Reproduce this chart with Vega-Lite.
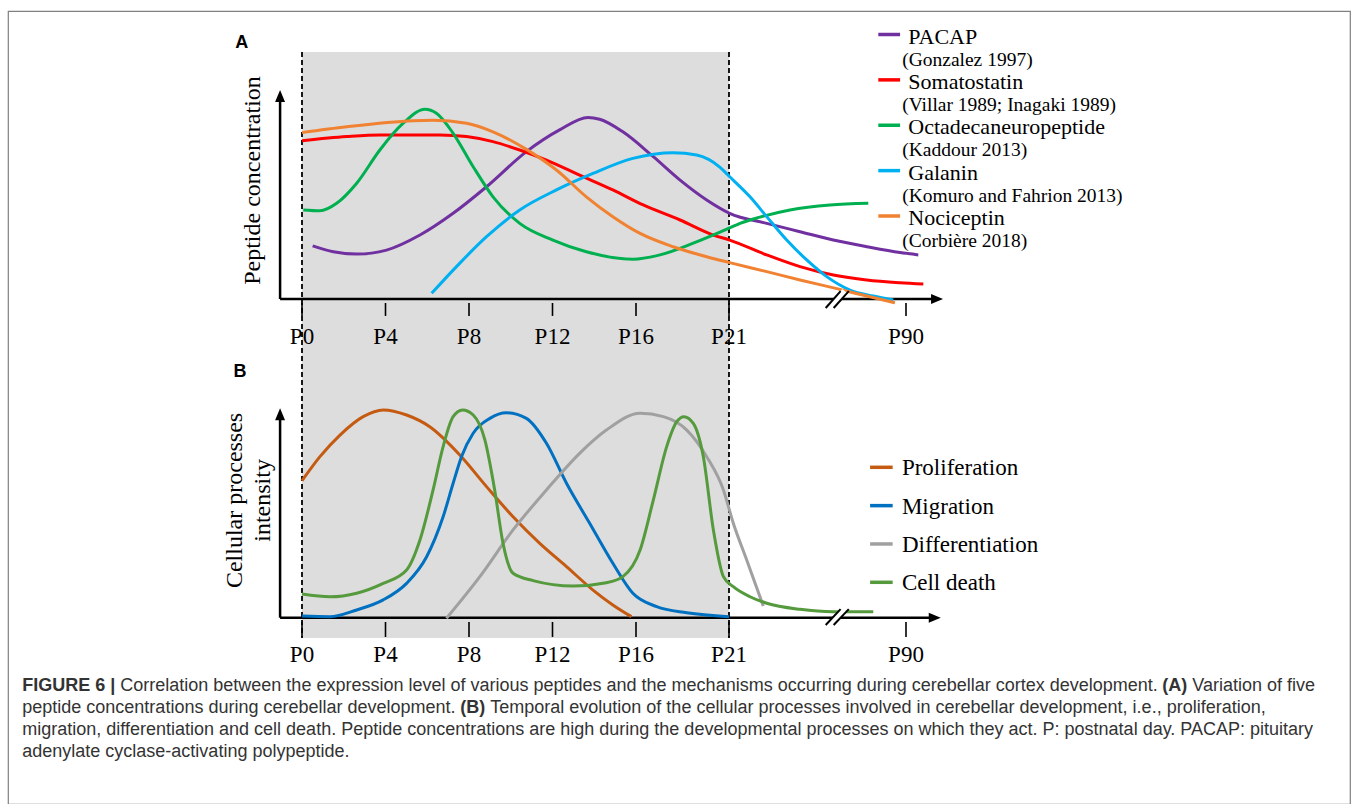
{
  "$schema": "https://vega.github.io/schema/vega-lite/v6.json",
  "width": 1342,
  "height": 793,
  "autosize": "none",
  "padding": {"left": 8, "top": 11, "right": 8, "bottom": 0},
  "background": "white",
  "config": {
    "view": {"stroke": "#808080", "strokeWidth": 1.2},
    "axis": {"disable": true},
    "legend": {"disable": true},
    "text": {"font": "Liberation Serif", "color": "black"}
  },
  "datasets": {
    "peptides": [
      {"peptide": "PACAP", "day": 0.51, "value": 25.4}, {"peptide": "PACAP", "day": 1.5, "value": 22.6}, {"peptide": "PACAP", "day": 2.62, "value": 21.5}, {"peptide": "PACAP", "day": 4.05, "value": 23.4}, {"peptide": "PACAP", "day": 5.65, "value": 30.6}, {"peptide": "PACAP", "day": 7.24, "value": 41.0}, {"peptide": "PACAP", "day": 8.84, "value": 53.7}, {"peptide": "PACAP", "day": 10.75, "value": 70.5}, {"peptide": "PACAP", "day": 12.34, "value": 80.9}, {"peptide": "PACAP", "day": 13.7, "value": 86.9}, {"peptide": "PACAP", "day": 14.26, "value": 86.0}, {"peptide": "PACAP", "day": 15.37, "value": 80.0}, {"peptide": "PACAP", "day": 16.93, "value": 68.1}, {"peptide": "PACAP", "day": 18.37, "value": 56.9}, {"peptide": "PACAP", "day": 19.8, "value": 47.4}, {"peptide": "PACAP", "day": 21.27, "value": 41.0}, {"peptide": "PACAP", "day": 35.7, "value": 36.2}, {"peptide": "PACAP", "day": 48.68, "value": 32.2}, {"peptide": "PACAP", "day": 61.66, "value": 28.2}, {"peptide": "PACAP", "day": 74.68, "value": 25.0}, {"peptide": "PACAP", "day": 87.66, "value": 22.2}, {"peptide": "PACAP", "day": 94.8, "value": 21.1},
      {"peptide": "Somatostatin", "day": 0, "value": 75.7}, {"peptide": "Somatostatin", "day": 2.14, "value": 77.7}, {"peptide": "Somatostatin", "day": 3.73, "value": 78.5}, {"peptide": "Somatostatin", "day": 6.6, "value": 78.5}, {"peptide": "Somatostatin", "day": 7.88, "value": 77.7}, {"peptide": "Somatostatin", "day": 9.15, "value": 75.3}, {"peptide": "Somatostatin", "day": 10.43, "value": 71.3}, {"peptide": "Somatostatin", "day": 11.71, "value": 66.5}, {"peptide": "Somatostatin", "day": 13.3, "value": 59.3}, {"peptide": "Somatostatin", "day": 14.89, "value": 52.2}, {"peptide": "Somatostatin", "day": 16.39, "value": 45.0}, {"peptide": "Somatostatin", "day": 18.37, "value": 37.8}, {"peptide": "Somatostatin", "day": 20.16, "value": 30.6}, {"peptide": "Somatostatin", "day": 21.27, "value": 28.2}, {"peptide": "Somatostatin", "day": 35.7, "value": 21.1}, {"peptide": "Somatostatin", "day": 48.68, "value": 15.5}, {"peptide": "Somatostatin", "day": 61.66, "value": 11.5}, {"peptide": "Somatostatin", "day": 74.68, "value": 9.1}, {"peptide": "Somatostatin", "day": 87.66, "value": 7.8}, {"peptide": "Somatostatin", "day": 96.75, "value": 7.2},
      {"peptide": "Octadecaneuropeptide", "day": 0.06, "value": 42.6}, {"peptide": "Octadecaneuropeptide", "day": 0.86, "value": 42.2}, {"peptide": "Octadecaneuropeptide", "day": 1.66, "value": 45.8}, {"peptide": "Octadecaneuropeptide", "day": 2.62, "value": 55.4}, {"peptide": "Octadecaneuropeptide", "day": 3.73, "value": 71.3}, {"peptide": "Octadecaneuropeptide", "day": 4.85, "value": 84.1}, {"peptide": "Octadecaneuropeptide", "day": 5.89, "value": 90.8}, {"peptide": "Octadecaneuropeptide", "day": 6.44, "value": 88.9}, {"peptide": "Octadecaneuropeptide", "day": 7.24, "value": 79.3}, {"peptide": "Octadecaneuropeptide", "day": 8.2, "value": 63.3}, {"peptide": "Octadecaneuropeptide", "day": 9.15, "value": 48.9}, {"peptide": "Octadecaneuropeptide", "day": 10.43, "value": 36.2}, {"peptide": "Octadecaneuropeptide", "day": 12.02, "value": 28.2}, {"peptide": "Octadecaneuropeptide", "day": 13.62, "value": 22.6}, {"peptide": "Octadecaneuropeptide", "day": 15.85, "value": 19.0}, {"peptide": "Octadecaneuropeptide", "day": 17.29, "value": 21.1}, {"peptide": "Octadecaneuropeptide", "day": 19.08, "value": 26.7}, {"peptide": "Octadecaneuropeptide", "day": 21.27, "value": 34.0}, {"peptide": "Octadecaneuropeptide", "day": 25.29, "value": 36.2}, {"peptide": "Octadecaneuropeptide", "day": 33.09, "value": 39.2}, {"peptide": "Octadecaneuropeptide", "day": 44.78, "value": 42.6}, {"peptide": "Octadecaneuropeptide", "day": 60.38, "value": 45.0}, {"peptide": "Octadecaneuropeptide", "day": 75.3, "value": 45.8},
      {"peptide": "Galanin", "day": 6.21, "value": 2.7}, {"peptide": "Galanin", "day": 7.4, "value": 15.5}, {"peptide": "Galanin", "day": 8.84, "value": 29.8}, {"peptide": "Galanin", "day": 10.43, "value": 42.6}, {"peptide": "Galanin", "day": 12.19, "value": 52.2}, {"peptide": "Galanin", "day": 13.94, "value": 60.1}, {"peptide": "Galanin", "day": 15.85, "value": 67.3}, {"peptide": "Galanin", "day": 18.0, "value": 70.0}, {"peptide": "Galanin", "day": 19.26, "value": 68.9}, {"peptide": "Galanin", "day": 20.52, "value": 63.0}, {"peptide": "Galanin", "day": 21.27, "value": 58.5}, {"peptide": "Galanin", "day": 29.19, "value": 48.9}, {"peptide": "Galanin", "day": 35.7, "value": 39.4}, {"peptide": "Galanin", "day": 43.5, "value": 28.2}, {"peptide": "Galanin", "day": 51.29, "value": 18.7}, {"peptide": "Galanin", "day": 59.09, "value": 10.7}, {"peptide": "Galanin", "day": 68.17, "value": 4.3}, {"peptide": "Galanin", "day": 77.25, "value": 1.4}, {"peptide": "Galanin", "day": 85.05, "value": -0.5},
      {"peptide": "Nociceptin", "day": 0, "value": 79.6}, {"peptide": "Nociceptin", "day": 2.14, "value": 82.4}, {"peptide": "Nociceptin", "day": 5.33, "value": 85.3}, {"peptide": "Nociceptin", "day": 6.28, "value": 85.5}, {"peptide": "Nociceptin", "day": 7.88, "value": 84.1}, {"peptide": "Nociceptin", "day": 9.15, "value": 80.0}, {"peptide": "Nociceptin", "day": 10.75, "value": 71.6}, {"peptide": "Nociceptin", "day": 12.19, "value": 61.7}, {"peptide": "Nociceptin", "day": 13.62, "value": 48.9}, {"peptide": "Nociceptin", "day": 14.89, "value": 39.4}, {"peptide": "Nociceptin", "day": 16.22, "value": 31.4}, {"peptide": "Nociceptin", "day": 18.0, "value": 25.0}, {"peptide": "Nociceptin", "day": 19.8, "value": 20.2}, {"peptide": "Nociceptin", "day": 21.27, "value": 17.4}, {"peptide": "Nociceptin", "day": 35.7, "value": 13.1}, {"peptide": "Nociceptin", "day": 48.68, "value": 9.1}, {"peptide": "Nociceptin", "day": 64.27, "value": 4.6}, {"peptide": "Nociceptin", "day": 74.68, "value": 1.4}, {"peptide": "Nociceptin", "day": 85.7, "value": -1.8}
    ],
    "processes": [
      {"process": "Proliferation", "day": 0, "value": 65.4}, {"process": "Proliferation", "day": 0.86, "value": 76.9}, {"process": "Proliferation", "day": 1.82, "value": 87.2}, {"process": "Proliferation", "day": 2.93, "value": 96.0}, {"process": "Proliferation", "day": 3.89, "value": 99.2}, {"process": "Proliferation", "day": 5.01, "value": 96.8}, {"process": "Proliferation", "day": 6.12, "value": 91.2}, {"process": "Proliferation", "day": 7.56, "value": 77.7}, {"process": "Proliferation", "day": 8.84, "value": 62.6}, {"process": "Proliferation", "day": 10.11, "value": 48.2}, {"process": "Proliferation", "day": 11.39, "value": 35.5}, {"process": "Proliferation", "day": 12.67, "value": 24.4}, {"process": "Proliferation", "day": 13.94, "value": 13.2}, {"process": "Proliferation", "day": 14.89, "value": 6.1}, {"process": "Proliferation", "day": 15.78, "value": 0.5},
      {"process": "Migration", "day": 0, "value": 0.8}, {"process": "Migration", "day": 1.34, "value": 0.5}, {"process": "Migration", "day": 2.62, "value": 3.7}, {"process": "Migration", "day": 3.89, "value": 8.5}, {"process": "Migration", "day": 5.01, "value": 16.4}, {"process": "Migration", "day": 5.97, "value": 29.1}, {"process": "Migration", "day": 6.76, "value": 48.2}, {"process": "Migration", "day": 7.24, "value": 64.2}, {"process": "Migration", "day": 7.64, "value": 76.9}, {"process": "Migration", "day": 8.2, "value": 88.1}, {"process": "Migration", "day": 9.0, "value": 95.2}, {"process": "Migration", "day": 9.79, "value": 97.9}, {"process": "Migration", "day": 10.75, "value": 95.2}, {"process": "Migration", "day": 11.71, "value": 83.3}, {"process": "Migration", "day": 12.67, "value": 64.2}, {"process": "Migration", "day": 13.78, "value": 45.1}, {"process": "Migration", "day": 14.89, "value": 26.0}, {"process": "Migration", "day": 15.85, "value": 11.7}, {"process": "Migration", "day": 17.11, "value": 5.3}, {"process": "Migration", "day": 18.73, "value": 2.4}, {"process": "Migration", "day": 21.0, "value": 0.5},
      {"process": "Differentiation", "day": 6.92, "value": -0.3}, {"process": "Differentiation", "day": 8.52, "value": 19.6}, {"process": "Differentiation", "day": 10.11, "value": 41.9}, {"process": "Differentiation", "day": 11.71, "value": 61.0}, {"process": "Differentiation", "day": 13.3, "value": 78.5}, {"process": "Differentiation", "day": 14.58, "value": 89.6}, {"process": "Differentiation", "day": 16.22, "value": 97.6}, {"process": "Differentiation", "day": 17.47, "value": 96.0}, {"process": "Differentiation", "day": 18.73, "value": 89.6}, {"process": "Differentiation", "day": 19.8, "value": 76.9}, {"process": "Differentiation", "day": 20.7, "value": 61.0}, {"process": "Differentiation", "day": 22.68, "value": 45.1}, {"process": "Differentiation", "day": 27.9, "value": 27.6}, {"process": "Differentiation", "day": 34.37, "value": 5.6},
      {"process": "Cell death", "day": 0, "value": 11.3}, {"process": "Cell death", "day": 1.34, "value": 10.0}, {"process": "Cell death", "day": 2.62, "value": 11.7}, {"process": "Cell death", "day": 3.89, "value": 16.4}, {"process": "Cell death", "day": 5.01, "value": 22.8}, {"process": "Cell death", "day": 5.65, "value": 37.1}, {"process": "Cell death", "day": 6.28, "value": 61.0}, {"process": "Cell death", "day": 6.76, "value": 81.7}, {"process": "Cell death", "day": 7.24, "value": 96.0}, {"process": "Cell death", "day": 7.69, "value": 99.2}, {"process": "Cell death", "day": 8.2, "value": 96.8}, {"process": "Cell death", "day": 8.76, "value": 84.9}, {"process": "Cell death", "day": 9.23, "value": 61.0}, {"process": "Cell death", "day": 9.63, "value": 35.5}, {"process": "Cell death", "day": 10.11, "value": 21.2}, {"process": "Cell death", "day": 11.07, "value": 17.7}, {"process": "Cell death", "day": 12.98, "value": 15.1}, {"process": "Cell death", "day": 14.58, "value": 16.7}, {"process": "Cell death", "day": 15.37, "value": 19.6}, {"process": "Cell death", "day": 16.22, "value": 32.3}, {"process": "Cell death", "day": 16.93, "value": 56.2}, {"process": "Cell death", "day": 17.65, "value": 81.7}, {"process": "Cell death", "day": 18.19, "value": 93.6}, {"process": "Cell death", "day": 18.58, "value": 96.0}, {"process": "Cell death", "day": 19.08, "value": 92.8}, {"process": "Cell death", "day": 19.62, "value": 76.9}, {"process": "Cell death", "day": 20.16, "value": 41.9}, {"process": "Cell death", "day": 20.7, "value": 19.6}, {"process": "Cell death", "day": 22.68, "value": 14.8}, {"process": "Cell death", "day": 29.19, "value": 10.0}, {"process": "Cell death", "day": 35.7, "value": 6.9}, {"process": "Cell death", "day": 48.68, "value": 4.0}, {"process": "Cell death", "day": 61.66, "value": 2.9}, {"process": "Cell death", "day": 77.25, "value": 2.9}
    ],
    "ticks": [
      {"day": 0, "label": "P0"}, {"day": 4, "label": "P4"}, {"day": 8, "label": "P8"}, {"day": 12, "label": "P12"}, {"day": 16, "label": "P16"}, {"day": 21, "label": "P21"}, {"day": 90, "label": "P90"}
    ],
    "window": [{"edge": "P0", "day": 0}, {"edge": "P21", "day": 21}],
    "legendA": [
      {"peptide": "PACAP", "cite": "(Gonzalez 1997)"},
      {"peptide": "Somatostatin", "cite": "(Villar 1989; Inagaki 1989)"},
      {"peptide": "Octadecaneuropeptide", "cite": "(Kaddour 2013)"},
      {"peptide": "Galanin", "cite": "(Komuro and Fahrion 2013)"},
      {"peptide": "Nociceptin", "cite": "(Corbière 2018)"}
    ],
    "legendB": [
      {"process": "Proliferation"}, {"process": "Migration"}, {"process": "Differentiation"}, {"process": "Cell death"}
    ],
    "caption": [
      {"line": 1, "part": "fig", "text": "FIGURE 6 |"},
      {"line": 1, "part": "l1b", "text": "Correlation between the expression level of various peptides and the mechanisms occurring during cerebellar cortex development."},
      {"line": 1, "part": "l1c", "text": "(A)"},
      {"line": 1, "part": "l1d", "text": "Variation of five"},
      {"line": 2, "part": "start", "text": "peptide concentrations during cerebellar development."},
      {"line": 2, "part": "l2b", "text": "(B)"},
      {"line": 2, "part": "l2c", "text": "Temporal evolution of the cellular processes involved in cerebellar development, i.e., proliferation,"},
      {"line": 3, "part": "start", "text": "migration, differentiation and cell death. Peptide concentrations are high during the developmental processes on which they act. P: postnatal day. PACAP: pituitary"},
      {"line": 4, "part": "start", "text": "adenylate cyclase-activating polypeptide."}
    ]
  },
  "resolve": {"scale": {"y": "independent", "color": "independent"}},
  "layer": [
    {
      "layer": [
        {
          "data": {"values": [{}]},
          "mark": {"type": "rect", "color": "#dddddd"},
          "encoding": {
            "x": {"datum": 0, "type": "quantitative", "scale": {"domain": [0, 16, 21, 90], "range": [294, 628, 721, 898], "zero": false, "nice": false}, "axis": null},
            "x2": {"datum": 21},
            "y": {"datum": 118.2, "type": "quantitative", "scale": {"domain": [0, 100], "range": [288, 79], "zero": false, "nice": false}, "axis": null},
            "y2": {"datum": -162.2}
          }
        },
        {
          "data": {"name": "window"},
          "mark": {"type": "rule", "color": "black", "strokeWidth": 1.8, "strokeDash": [5, 3]},
          "encoding": {"x": {"field": "day", "type": "quantitative", "axis": null}, "y": {"datum": 118.2, "axis": null}, "y2": {"datum": -162.2}}
        },
        {
          "data": {"values": [{}]},
          "mark": {"type": "rule", "color": "black", "strokeWidth": 2.5},
          "encoding": {"x": {"datum": -1.05, "axis": null}, "y": {"datum": 0, "axis": null}, "y2": {"datum": 96}}
        },
        {
          "data": {"values": [{}]},
          "mark": {"type": "rule", "color": "black", "strokeWidth": 2.5},
          "encoding": {"x": {"datum": -1.05, "axis": null}, "x2": {"datum": 101}, "y": {"datum": 0, "axis": null}}
        },
        {
          "data": {"values": [{}]},
          "mark": {"type": "point", "shape": "M-0.83,1L0,-1L0.83,1Z", "filled": true, "color": "black", "opacity": 1, "size": 144},
          "encoding": {"x": {"datum": -1.05, "axis": null}, "y": {"datum": 97.1, "axis": null}}
        },
        {
          "data": {"values": [{}]},
          "mark": {"type": "point", "shape": "M-1,-0.83L1,0L-1,0.83Z", "filled": true, "color": "black", "opacity": 1, "size": 144},
          "encoding": {"x": {"datum": 102.1, "axis": null}, "y": {"datum": 0, "axis": null}}
        },
        {
          "data": {"name": "ticks"},
          "mark": {"type": "rule", "color": "black", "strokeWidth": 1.6},
          "encoding": {"x": {"field": "day", "type": "quantitative", "axis": null}, "y": {"datum": -1.9, "axis": null}, "y2": {"datum": -8.1}}
        },
        {
          "data": {"name": "ticks"},
          "mark": {"type": "text", "fontSize": 23, "align": "center", "baseline": "alphabetic"},
          "encoding": {"x": {"field": "day", "type": "quantitative", "axis": null}, "y": {"datum": -21.5, "axis": null}, "text": {"field": "label"}}
        },
        {
          "data": {"name": "peptides"},
          "mark": {"type": "line", "strokeWidth": 3, "interpolate": "monotone"},
          "encoding": {
            "x": {"field": "day", "type": "quantitative", "axis": null},
            "y": {"field": "value", "type": "quantitative", "axis": null},
            "color": {"field": "peptide", "type": "nominal", "scale": {"domain": ["PACAP", "Somatostatin", "Octadecaneuropeptide", "Galanin", "Nociceptin"], "range": ["#7030a0", "#ff0000", "#00b050", "#00b0f0", "#f08232"]}, "legend": null}
          }
        },
        {
          "data": {"values": [{}]},
          "mark": {"type": "rule", "color": "white", "strokeWidth": 6},
          "encoding": {"x": {"datum": 60.3, "axis": null}, "x2": {"datum": 66.1}, "y": {"datum": -4.3, "axis": null}, "y2": {"datum": 3.8}}
        },
        {
          "data": {"values": [{}]},
          "mark": {"type": "rule", "color": "black", "strokeWidth": 2},
          "encoding": {"x": {"datum": 58.7, "axis": null}, "x2": {"datum": 64.5}, "y": {"datum": -4.3, "axis": null}, "y2": {"datum": 3.8}}
        },
        {
          "data": {"values": [{}]},
          "mark": {"type": "rule", "color": "black", "strokeWidth": 2},
          "encoding": {"x": {"datum": 61.8, "axis": null}, "x2": {"datum": 67.7}, "y": {"datum": -4.3, "axis": null}, "y2": {"datum": 3.8}}
        },
        {
          "data": {"values": [{}]},
          "mark": {"type": "text", "text": "A", "font": "Liberation Sans", "fontWeight": "bold", "fontSize": 18, "align": "center", "baseline": "alphabetic"},
          "encoding": {"x": {"datum": -2.89, "axis": null}, "y": {"datum": 120.1, "axis": null}}
        },
        {
          "data": {"values": [{}]},
          "mark": {"type": "text", "text": "Peptide concentration", "fontSize": 24, "angle": 270, "align": "center", "baseline": "middle"},
          "encoding": {"x": {"datum": -2.33, "axis": null}, "y": {"datum": 56.7, "axis": null}}
        }
      ]
    },
    {
      "layer": [
        {
          "data": {"values": [{}]},
          "mark": {"type": "rule", "color": "black", "strokeWidth": 2.5},
          "encoding": {
            "x": {"datum": -1.05, "axis": null},
            "y": {"datum": 0, "type": "quantitative", "scale": {"domain": [0, 100], "range": [606.7, 397.3], "zero": false, "nice": false}, "axis": null},
            "y2": {"datum": 96}
          }
        },
        {
          "data": {"values": [{}]},
          "mark": {"type": "rule", "color": "black", "strokeWidth": 2.5},
          "encoding": {"x": {"datum": -1.05, "axis": null}, "x2": {"datum": 100.5}, "y": {"datum": 0, "axis": null}}
        },
        {
          "data": {"values": [{}]},
          "mark": {"type": "point", "shape": "M-0.83,1L0,-1L0.83,1Z", "filled": true, "color": "black", "opacity": 1, "size": 144},
          "encoding": {"x": {"datum": -1.05, "axis": null}, "y": {"datum": 97.1, "axis": null}}
        },
        {
          "data": {"values": [{}]},
          "mark": {"type": "point", "shape": "M-1,-0.83L1,0L-1,0.83Z", "filled": true, "color": "black", "opacity": 1, "size": 144},
          "encoding": {"x": {"datum": 101.2, "axis": null}, "y": {"datum": 0, "axis": null}}
        },
        {
          "data": {"name": "ticks"},
          "mark": {"type": "rule", "color": "black", "strokeWidth": 1.6},
          "encoding": {"x": {"field": "day", "type": "quantitative", "axis": null}, "y": {"datum": -2.05, "axis": null}, "y2": {"datum": -9.2}}
        },
        {
          "data": {"name": "ticks"},
          "mark": {"type": "text", "fontSize": 23, "align": "center", "baseline": "alphabetic"},
          "encoding": {"x": {"field": "day", "type": "quantitative", "axis": null}, "y": {"datum": -21.3, "axis": null}, "text": {"field": "label"}}
        },
        {
          "data": {"name": "processes"},
          "mark": {"type": "line", "strokeWidth": 3, "interpolate": "monotone"},
          "encoding": {
            "x": {"field": "day", "type": "quantitative", "axis": null},
            "y": {"field": "value", "type": "quantitative", "axis": null},
            "color": {"field": "process", "type": "nominal", "scale": {"domain": ["Proliferation", "Migration", "Differentiation", "Cell death"], "range": ["#c55a11", "#0070c0", "#a0a0a0", "#559a3c"]}, "legend": null}
          }
        },
        {
          "data": {"values": [{}]},
          "mark": {"type": "rule", "color": "white", "strokeWidth": 6},
          "encoding": {"x": {"datum": 60.3, "axis": null}, "x2": {"datum": 66.1}, "y": {"datum": -3.5, "axis": null}, "y2": {"datum": 4.1}}
        },
        {
          "data": {"values": [{}]},
          "mark": {"type": "rule", "color": "black", "strokeWidth": 2},
          "encoding": {"x": {"datum": 58.7, "axis": null}, "x2": {"datum": 64.5}, "y": {"datum": -3.5, "axis": null}, "y2": {"datum": 4.1}}
        },
        {
          "data": {"values": [{}]},
          "mark": {"type": "rule", "color": "black", "strokeWidth": 2},
          "encoding": {"x": {"datum": 61.8, "axis": null}, "x2": {"datum": 67.7}, "y": {"datum": -3.5, "axis": null}, "y2": {"datum": 4.1}}
        },
        {
          "data": {"values": [{}]},
          "mark": {"type": "text", "text": "B", "font": "Liberation Sans", "fontWeight": "bold", "fontSize": 18, "align": "center", "baseline": "alphabetic"},
          "encoding": {"x": {"datum": -2.97, "axis": null}, "y": {"datum": 114.9, "axis": null}}
        },
        {
          "data": {"values": [{}]},
          "mark": {"type": "text", "text": ["Cellular processes", "intensity"], "lineHeight": 28, "fontSize": 24, "angle": 270, "align": "center", "baseline": "middle"},
          "encoding": {"x": {"datum": -3.21, "axis": null}, "y": {"datum": 56.0, "axis": null}}
        }
      ]
    },
    {
      "data": {"name": "legendA"},
      "layer": [
        {
          "mark": {"type": "rule", "strokeWidth": 3.5},
          "encoding": {
            "x": {"datum": 79.2, "axis": null},
            "x2": {"datum": 87.7},
            "y": {"field": "peptide", "type": "nominal", "scale": {"type": "point", "domain": ["PACAP", "Somatostatin", "Octadecaneuropeptide", "Galanin", "Nociceptin"], "range": [23.5, 205], "padding": 0}, "axis": null},
            "color": {"field": "peptide", "type": "nominal", "scale": {"domain": ["PACAP", "Somatostatin", "Octadecaneuropeptide", "Galanin", "Nociceptin"], "range": ["#7030a0", "#ff0000", "#00b050", "#00b0f0", "#f08232"]}, "legend": null}
          }
        },
        {
          "mark": {"type": "text", "fontSize": 22, "align": "left", "baseline": "middle", "dy": 2},
          "encoding": {"x": {"datum": 90.9, "axis": null}, "y": {"field": "peptide", "type": "nominal", "axis": null}, "text": {"field": "peptide"}}
        },
        {
          "mark": {"type": "text", "fontSize": 19.5, "align": "left", "baseline": "middle", "dy": 25},
          "encoding": {"x": {"datum": 88.5, "axis": null}, "y": {"field": "peptide", "type": "nominal", "axis": null}, "text": {"field": "cite"}}
        }
      ]
    },
    {
      "data": {"name": "legendB"},
      "layer": [
        {
          "mark": {"type": "rule", "strokeWidth": 3.5},
          "encoding": {
            "x": {"datum": 76.0, "axis": null},
            "x2": {"datum": 84.8},
            "y": {"field": "process", "type": "nominal", "scale": {"type": "point", "domain": ["Proliferation", "Migration", "Differentiation", "Cell death"], "range": [456.3, 571.3], "padding": 0}, "axis": null},
            "color": {"field": "process", "type": "nominal", "scale": {"domain": ["Proliferation", "Migration", "Differentiation", "Cell death"], "range": ["#c55a11", "#0070c0", "#a0a0a0", "#559a3c"]}, "legend": null}
          }
        },
        {
          "mark": {"type": "text", "fontSize": 23, "align": "left", "baseline": "middle", "dy": 1},
          "encoding": {"x": {"datum": 88.4, "axis": null}, "y": {"field": "process", "type": "nominal", "axis": null}, "text": {"field": "process"}}
        }
      ]
    },
    {
      "data": {"name": "caption"},
      "layer": [
        {
          "transform": [{"filter": "datum.part == 'start'"}],
          "mark": {"type": "text", "font": "Liberation Sans", "fontSize": 18, "align": "left", "baseline": "middle", "color": "#333333"},
          "encoding": {
            "x": {"datum": -13.4, "axis": null},
            "y": {"field": "line", "type": "quantitative", "scale": {"domain": [1, 4], "range": [675, 741], "zero": false, "nice": false}, "axis": null},
            "text": {"field": "text"}
          }
        },
        {
          "transform": [{"filter": "datum.part == 'fig'"}],
          "mark": {"type": "text", "font": "Liberation Sans", "fontWeight": "bold", "fontSize": 18, "align": "left", "baseline": "middle", "color": "#333333"},
          "encoding": {"x": {"datum": -13.4, "axis": null}, "y": {"field": "line", "type": "quantitative", "axis": null}, "text": {"field": "text"}}
        },
        {
          "transform": [{"filter": "datum.part == 'l1b'"}],
          "mark": {"type": "text", "font": "Liberation Sans", "fontSize": 18, "align": "left", "baseline": "middle", "color": "#333333", "dx": 98},
          "encoding": {"x": {"datum": -13.4, "axis": null}, "y": {"field": "line", "type": "quantitative", "axis": null}, "text": {"field": "text"}}
        },
        {
          "transform": [{"filter": "datum.part == 'l1c'"}],
          "mark": {"type": "text", "font": "Liberation Sans", "fontWeight": "bold", "fontSize": 18, "align": "left", "baseline": "middle", "color": "#333333", "dx": 1140},
          "encoding": {"x": {"datum": -13.4, "axis": null}, "y": {"field": "line", "type": "quantitative", "axis": null}, "text": {"field": "text"}}
        },
        {
          "transform": [{"filter": "datum.part == 'l1d'"}],
          "mark": {"type": "text", "font": "Liberation Sans", "fontSize": 18, "align": "left", "baseline": "middle", "color": "#333333", "dx": 1170},
          "encoding": {"x": {"datum": -13.4, "axis": null}, "y": {"field": "line", "type": "quantitative", "axis": null}, "text": {"field": "text"}}
        },
        {
          "transform": [{"filter": "datum.part == 'l2b'"}],
          "mark": {"type": "text", "font": "Liberation Sans", "fontWeight": "bold", "fontSize": 18, "align": "left", "baseline": "middle", "color": "#333333", "dx": 438},
          "encoding": {"x": {"datum": -13.4, "axis": null}, "y": {"field": "line", "type": "quantitative", "axis": null}, "text": {"field": "text"}}
        },
        {
          "transform": [{"filter": "datum.part == 'l2c'"}],
          "mark": {"type": "text", "font": "Liberation Sans", "fontSize": 18, "align": "left", "baseline": "middle", "color": "#333333", "dx": 468},
          "encoding": {"x": {"datum": -13.4, "axis": null}, "y": {"field": "line", "type": "quantitative", "axis": null}, "text": {"field": "text"}}
        }
      ]
    }
  ]
}
